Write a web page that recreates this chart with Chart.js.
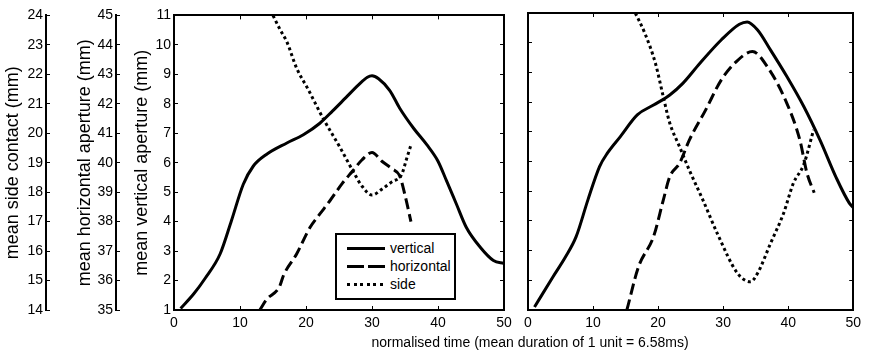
<!DOCTYPE html>
<html>
<head>
<meta charset="utf-8">
<script src="https://cdn.jsdelivr.net/npm/chart.js@4.4.1/dist/chart.umd.min.js"></script>
<style>
    body { margin: 0; background: #fff; overflow: hidden; }
    #wrap { position: relative; width: 870px; height: 353px; font-family: "Liberation Sans", Arial, sans-serif; color: #000; }
    #wrap canvas { position: absolute; left: 0; top: 0; }
    #legend { position: absolute; left: 335px; top: 233px; width: 121px; height: 67px; box-sizing: border-box; border: 2px solid #000; background: #fff; }
    .lgLine { position: absolute; left: 347px; width: 38px; height: 3px; }
    .lgText { position: absolute; left: 390px; font-size: 14px; line-height: 16px; white-space: nowrap; }
    #xTitle { position: absolute; left: 530px; top: 334px; transform: translateX(-50%); font-size: 14px; line-height: 16px; white-space: nowrap; }
</style>
</head>
<body>
<div id="wrap">
    <canvas id="leftChart" width="870" height="353"></canvas>
    <canvas id="rightChart" width="870" height="353"></canvas>
    <div id="legend"></div>
    <div class="lgLine" style="top:247px;background:#000"></div>
    <div class="lgText" style="top:240px">vertical</div>
    <div class="lgLine" style="top:265px;background:repeating-linear-gradient(to right,#000 0 17px,transparent 17px 21px)"></div>
    <div class="lgText" style="top:258px">horizontal</div>
    <div class="lgLine" style="top:283px;background:repeating-linear-gradient(to right,#000 0 3px,transparent 3px 6.6px)"></div>
    <div class="lgText" style="top:276px">side</div>
    <div id="xTitle">normalised time (mean duration of 1 unit = 6.58ms)</div>
</div>
<script>
// left panel (time in normalised units, values in mm)
var leftVertT = [1, 3, 4.7, 7, 8.7, 10.5, 12, 14, 17.1, 19.6, 22.1, 24, 26, 28, 29.3, 30, 31, 32.7, 34.2, 36.3, 38.3, 40, 41.3, 42.8, 44.3, 46.4, 48.4, 50];
var leftVertV = [1.05, 1.55, 2.07, 2.91, 4.03, 5.27, 5.88, 6.28, 6.67, 6.95, 7.34, 7.75, 8.2, 8.65, 8.9, 8.95, 8.85, 8.45, 7.85, 7.17, 6.61, 6.05, 5.38, 4.59, 3.8, 3.13, 2.68, 2.58];
var leftHorT = [13, 14, 16, 16.6, 18.6, 20.6, 22.1, 23.6, 25.5, 27, 28.5, 30, 31.5, 33, 34.2, 35, 35.9];
var leftHorV = [35.0, 35.35, 35.8, 36.18, 36.91, 37.8, 38.26, 38.7, 39.3, 39.7, 40.1, 40.35, 40.05, 39.8, 39.55, 38.9, 38.0];
var leftSideT = [15, 16, 17.1, 18.6, 20.3, 22.6, 25.2, 27.4, 28.5, 30, 31.5, 33, 34.5, 35.2, 35.9];
var leftSideV = [24.0, 23.55, 23.1, 22.2, 21.5, 20.5, 19.5, 18.6, 18.2, 17.9, 18.1, 18.35, 18.6, 19.1, 19.6];

// right panel
var rightVertT = [1, 3.85, 5.8, 7.4, 9.2, 11, 12.2, 14.2, 16.8, 19.3, 21.8, 23.8, 26.4, 29.7, 32.5, 33.7, 35.3, 37.3, 39.8, 42.4, 44.9, 47.4, 49.4, 50];
var rightVertV = [1.1, 2.12, 2.8, 3.47, 4.7, 5.83, 6.28, 6.84, 7.57, 7.9, 8.24, 8.63, 9.3, 10.09, 10.62, 10.7, 10.43, 9.75, 8.86, 7.85, 6.72, 5.45, 4.6, 4.45];
var rightHorT = [15.2, 17, 19.3, 20.8, 21.8, 23.3, 24.8, 27.3, 29.7, 32.2, 34.5, 36.8, 39.8, 41.8, 42.9, 44];
var rightHorV = [35.0, 36.46, 37.47, 38.7, 39.49, 39.94, 40.72, 41.73, 42.74, 43.4, 43.7, 43.19, 41.96, 40.72, 39.6, 38.95];
var rightSideT = [16.5, 18, 19.6, 20.8, 21.8, 23.3, 24.8, 26.9, 29.2, 32.2, 34.2, 35.3, 37.3, 39.3, 40.8, 42.4, 43.9];
var rightSideV = [24.0, 23.3, 22.3, 21.18, 20.29, 19.5, 18.71, 17.7, 16.53, 15.24, 14.95, 15.24, 16.25, 17.26, 18.27, 18.9, 20.06];

var xTicks = [0, 10, 20, 30, 40, 50];

var black = '#000';
var fontFamily = 'Liberation Sans';

function series(t, v, axisId, dash) {
    return {
        data: t.map(function (x, i) { return { x: x, y: v[i] }; }),
        yAxisID: axisId,
        borderColor: black,
        borderWidth: 3,
        borderDash: dash,
        borderCapStyle: 'butt',
        pointRadius: 0,
        cubicInterpolationMode: 'monotone',
        fill: false
    };
}

// box style axis, ticks pointing inwards (negative tick length)
function axis(position, min, max, size, opts) {
    opts = opts || {};
    return {
        type: 'linear',
        position: position,
        min: min,
        max: max,
        display: opts.hidden ? false : true,
        weight: opts.weight || 0,
        grid: { drawOnChartArea: false, drawTicks: true, tickLength: -4, color: black, lineWidth: 1 },
        border: { display: true, color: black, width: 2 },
        ticks: {
            display: !!opts.labels,
            stepSize: opts.step || 1,
            color: black,
            padding: opts.pad || 7,
            font: { family: fontFamily, size: 14 },
            maxRotation: 0,
            autoSkip: false
        },
        title: opts.title ? {
            display: true,
            text: opts.title,
            color: black,
            font: { family: fontFamily, size: 18 },
            padding: { top: opts.titlePad, bottom: 0 }
        } : { display: false },
        afterFit: function (s) {
            if (s.isHorizontal()) s.height = size; else s.width = size;
        }
    };
}

function drawPanel(id, datasets, scales) {
    var ctx = document.getElementById(id).getContext('2d');
    return new Chart(ctx, {
        type: 'line',
        data: { datasets: datasets },
        options: {
            responsive: false,
            animation: false,
            layout: { padding: 0 },
            plugins: { legend: { display: false }, tooltip: { enabled: false } },
            scales: scales
        }
    });
}

function xAxis(labels) {
    var a = axis('bottom', 0, 50, 43, { labels: labels, step: 10, pad: 9 });
    a.afterBuildTicks = function (s) { s.ticks = xTicks.map(function (v) { return { value: v }; }); };
    return a;
}

drawPanel('leftChart', [
    series(leftVertT, leftVertV, 'y', []),
    series(leftHorT, leftHorV, 'yH', [11, 5]),
    series(leftSideT, leftSideV, 'yS', [3, 3])
], {
    x: xAxis(true),
    xTop: axis('top', 0, 50, 13, { step: 10 }),
    y: axis('left', 1, 11, 58, { labels: true, weight: 0, title: 'mean vertical aperture (mm)', titlePad: 15 }),
    yH: axis('left', 35, 45, 70, { labels: true, weight: 1, title: 'mean horizontal aperture (mm)', titlePad: 28 }),
    yS: axis('left', 14, 24, 46, { labels: true, weight: 2, title: 'mean side contact (mm)', titlePad: 2 }),
    yR: axis('right', 1, 11, 366, {})
});

drawPanel('rightChart', [
    series(rightVertT, rightVertV, 'y', []),
    series(rightHorT, rightHorV, 'yH', [11, 5]),
    series(rightSideT, rightSideV, 'yS', [3, 3])
], {
    x: xAxis(true),
    xTop: axis('top', 0, 50, 13, { step: 10 }),
    y: axis('left', 1, 11, 528, {}),
    yR: axis('right', 1, 11, 13, {}),
    yH: axis('left', 35, 45, 0, { hidden: true }),
    yS: axis('left', 14, 24, 0, { hidden: true })
});
</script>
</body>
</html>
